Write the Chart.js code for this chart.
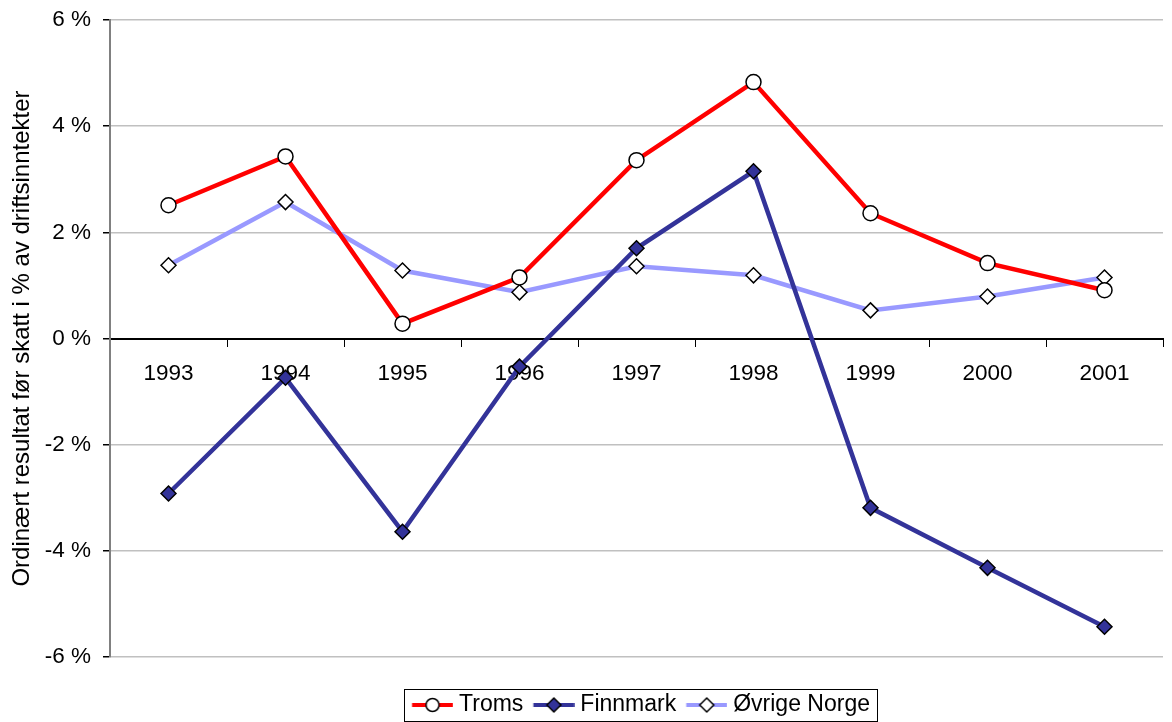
<!DOCTYPE html>
<html>
<head>
<meta charset="utf-8">
<script src="https://cdn.jsdelivr.net/npm/chart.js@4/dist/chart.umd.min.js"></script>
<style>
    html, body { margin: 0; padding: 0; background: #fff; }
    #wrap { width: 1172px; height: 722px; }
</style>
</head>
<body>
<div id="wrap"><canvas id="chart" width="1172" height="722"></canvas></div>
<script>
// values
const years = ["1993", "1994", "1995", "1996", "1997", "1998", "1999", "2000", "2001"];
const troms = [2.51, 3.43, 0.28, 1.15, 3.36, 4.83, 2.36, 1.42, 0.91];
const finnmark = [-2.92, -0.74, -3.64, -0.53, 1.70, 3.15, -3.19, -4.32, -5.43];
const ovrigeNorge = [1.38, 2.57, 1.28, 0.87, 1.36, 1.19, 0.53, 0.79, 1.15];
const yTitle = "Ordinært resultat før skatt i % av driftsinntekter";

const FONT = "'Liberation Sans', Arial, sans-serif";

// small canvas with line + marker for the legend (icon sits in the right 41px)
function legendIcon(color, fill, shape) {
    const c = document.createElement("canvas");
    c.width = 56;
    c.height = 18;
    const g = c.getContext("2d");
    const x0 = 14.75, cx = x0 + 20.5;
    g.strokeStyle = color;
    g.lineWidth = 4;
    g.beginPath();
    g.moveTo(x0, 9);
    g.lineTo(x0 + 41, 9);
    g.stroke();
    g.fillStyle = fill;
    g.strokeStyle = "#000";
    g.lineWidth = 1.5;
    g.beginPath();
    if (shape === "circle") {
        g.arc(cx, 9, 6.5, 0, Math.PI * 2);
    } else {
        g.moveTo(cx, 2); g.lineTo(cx + 7, 9); g.lineTo(cx, 16); g.lineTo(cx - 7, 9); g.closePath();
    }
    g.fill();
    g.stroke();
    return c;
}

const icons = [
    legendIcon("#ff0000", "#ffffff", "circle"),
    legendIcon("#333399", "#333399", "diamond"),
    legendIcon("#9999ff", "#ffffff", "diamond")
];

const legendBorder = {
    id: "legendBorder",
    afterDraw(chart) {
        const boxes = chart.legend.legendHitBoxes;
        if (!boxes || !boxes.length) return;
        const last = boxes[boxes.length - 1];
        const left = boxes[0].left + 1;
        const right = last.left + last.width + 7;
        const cy = boxes[0].top + boxes[0].height / 2;
        const ctx = chart.ctx;
        ctx.save();
        ctx.strokeStyle = "#000";
        ctx.lineWidth = 1;
        ctx.strokeRect(Math.round(left) + 0.5, Math.round(cy - 16) + 0.5, Math.round(right - left), 32);
        ctx.restore();
    }
};

new Chart(document.getElementById("chart"), {
    type: "line",
    data: {
        labels: years,
        datasets: [
            {
                label: "Troms",
                data: troms,
                borderColor: "#ff0000",
                borderWidth: 4.5,
                pointStyle: "circle",
                pointRadius: 7.5,
                pointBackgroundColor: "#ffffff",
                pointBorderColor: "#000000",
                pointBorderWidth: 1.5,
                tension: 0
            },
            {
                label: "Finnmark",
                data: finnmark,
                borderColor: "#333399",
                borderWidth: 4.5,
                pointStyle: "rectRot",
                pointRadius: 7.5,
                pointBackgroundColor: "#333399",
                pointBorderColor: "#000000",
                pointBorderWidth: 1.5,
                tension: 0
            },
            {
                label: "Øvrige Norge",
                data: ovrigeNorge,
                borderColor: "#9999ff",
                borderWidth: 4.5,
                pointStyle: "rectRot",
                pointRadius: 7.5,
                pointBackgroundColor: "#ffffff",
                pointBorderColor: "#000000",
                pointBorderWidth: 1.5,
                tension: 0
            }
        ]
    },
    options: {
        responsive: false,
        animation: false,
        layout: { padding: { top: 20, right: 2, left: 0, bottom: 0 } },
        scales: {
            x: {
                type: "category",
                position: { y: 0 },
                offset: true,
                grid: {
                    offset: true,
                    drawOnChartArea: false,
                    drawTicks: true,
                    tickLength: 7,
                    tickColor: "#000",
                    tickWidth: 1
                },
                border: { color: "#000", width: 2 },
                ticks: {
                    color: "#000",
                    padding: 15,
                    maxRotation: 0,
                    font: { family: FONT, size: 22.5 }
                }
            },
            pad: {
                type: "category",
                position: "bottom",
                display: true,
                grid: { display: false },
                border: { display: false },
                ticks: { display: false },
                afterFit: s => { s.height = 35.5; }
            },
            y: {
                min: -6,
                max: 6,
                afterFit: s => {
                    s.width = 110;
                    s.paddingTop = 0;
                    s.paddingBottom = 0;
                },
                ticks: {
                    stepSize: 2,
                    color: "#000",
                    padding: 12,
                    font: { family: FONT, size: 22.5 },
                    callback: v => v + " %"
                },
                grid: {
                    color: "#c0c0c0",
                    lineWidth: 1.5,
                    tickColor: "#000",
                    tickLength: 7,
                    tickWidth: 1.5
                },
                border: { color: "#808080", width: 2 },
                title: {
                    display: true,
                    text: yTitle,
                    color: "#000",
                    padding: { top: 8, bottom: 0 },
                    font: { family: FONT, size: 24 }
                }
            }
        },
        plugins: {
            legend: {
                position: "bottom",
                fullSize: false,
                maxHeight: 29.5,
                labels: {
                    usePointStyle: true,
                    pointStyleWidth: 44.5,
                    padding: 1,
                    color: "#000",
                    font: { family: FONT, size: 23 },
                    generateLabels: chart => chart.data.datasets.map((ds, i) => ({
                        text: ds.label,
                        datasetIndex: i,
                        pointStyle: icons[i],
                        fillStyle: ds.borderColor,
                        strokeStyle: ds.borderColor,
                        lineWidth: 0,
                        hidden: false,
                        fontColor: "#000"
                    }))
                }
            },
            tooltip: { enabled: false }
        }
    },
    plugins: [legendBorder]
});
</script>
</body>
</html>
